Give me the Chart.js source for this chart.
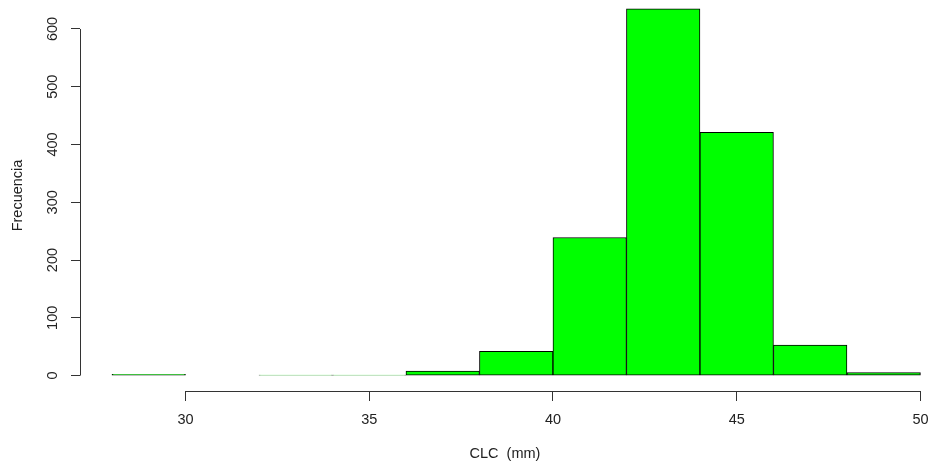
<!DOCTYPE html>
<html>
<head>
<meta charset="utf-8">
<script src="https://cdn.jsdelivr.net/npm/chart.js@4.4.1/dist/chart.umd.min.js"></script>
<style>
  html, body { margin: 0; padding: 0; background: #fff; }
  #wrap { width: 930px; height: 467px; }
</style>
</head>
<body>
<div id="wrap"><canvas id="hist" width="930" height="467"></canvas></div>
<script>
// histogram bins (mm) and counts
const breaks = [28, 30, 32, 34, 36, 38, 40, 42, 44, 46, 48, 50];
const counts = [2, 0, 1, 1, 8, 42, 239, 635, 421, 53, 5];
const xTicks = [30, 35, 40, 45, 50];
const yTicks = [0, 100, 200, 300, 400, 500, 600];

const axisColor = '#333';
const textFont = { family: '"Liberation Sans", Arial, sans-serif', size: 14.5 };

const points = counts.map((c, i) => ({ x: (breaks[i] + breaks[i + 1]) / 2, y: c }));

// R draws axis lines only between the first and last tick
const rAxes = {
  id: 'rAxes',
  afterDraw(chart) {
    const { ctx, chartArea, scales } = chart;
    const x = scales.x, y = scales.y;
    ctx.save();
    ctx.strokeStyle = axisColor;
    ctx.lineWidth = 1;
    ctx.beginPath();
    const by = Math.round(chartArea.bottom) + 0.5;
    ctx.moveTo(x.getPixelForValue(xTicks[0]), by);
    ctx.lineTo(x.getPixelForValue(xTicks[xTicks.length - 1]), by);
    const lx = Math.round(chartArea.left) + 0.5;
    ctx.moveTo(lx, y.getPixelForValue(yTicks[0]));
    ctx.lineTo(lx, y.getPixelForValue(yTicks[yTicks.length - 1]));
    ctx.stroke();
    ctx.restore();
  }
};

new Chart(document.getElementById('hist'), {
  type: 'bar',
  data: {
    datasets: [{
      data: points,
      backgroundColor: '#00ff00',
      borderColor: '#000',
      borderWidth: 1,
      borderSkipped: false,
      barPercentage: 1,
      categoryPercentage: 1
    }]
  },
  options: {
    responsive: false,
    animation: false,
    layout: { padding: 0 },
    plugins: { legend: { display: false }, tooltip: { enabled: false } },
    scales: {
      x: {
        type: 'linear',
        offset: false,
        min: 27.13,
        max: 50.26,
        afterBuildTicks: s => { s.ticks = xTicks.map(v => ({ value: v })); },
        afterFit: s => { s.height = 76; s.paddingLeft = 0; s.paddingRight = 0; },
        border: { display: false },
        grid: { offset: false, drawOnChartArea: false, drawTicks: true, tickLength: 10, color: axisColor },
        ticks: { font: textFont, color: '#222', padding: 10, maxRotation: 0 },
        title: { display: true, text: 'CLC  (mm)', font: textFont, color: '#222', padding: { top: 0, bottom: 4 } }
      },
      y: {
        min: -26.7,
        max: 650.2,
        afterBuildTicks: s => { s.ticks = yTicks.map(v => ({ value: v })); },
        afterFit: s => { s.width = 80; s.paddingTop = 0; s.paddingBottom = 0; },
        border: { display: false },
        grid: { drawOnChartArea: false, drawTicks: true, tickLength: 9, color: axisColor },
        ticks: { font: textFont, color: '#222', padding: 6, minRotation: 90, maxRotation: 90, crossAlign: 'center' },
        title: { display: true, text: 'Frecuencia', font: textFont, color: '#222', padding: { top: 9, bottom: 0 } }
      }
    }
  },
  plugins: [rAxes]
});
</script>
</body>
</html>
